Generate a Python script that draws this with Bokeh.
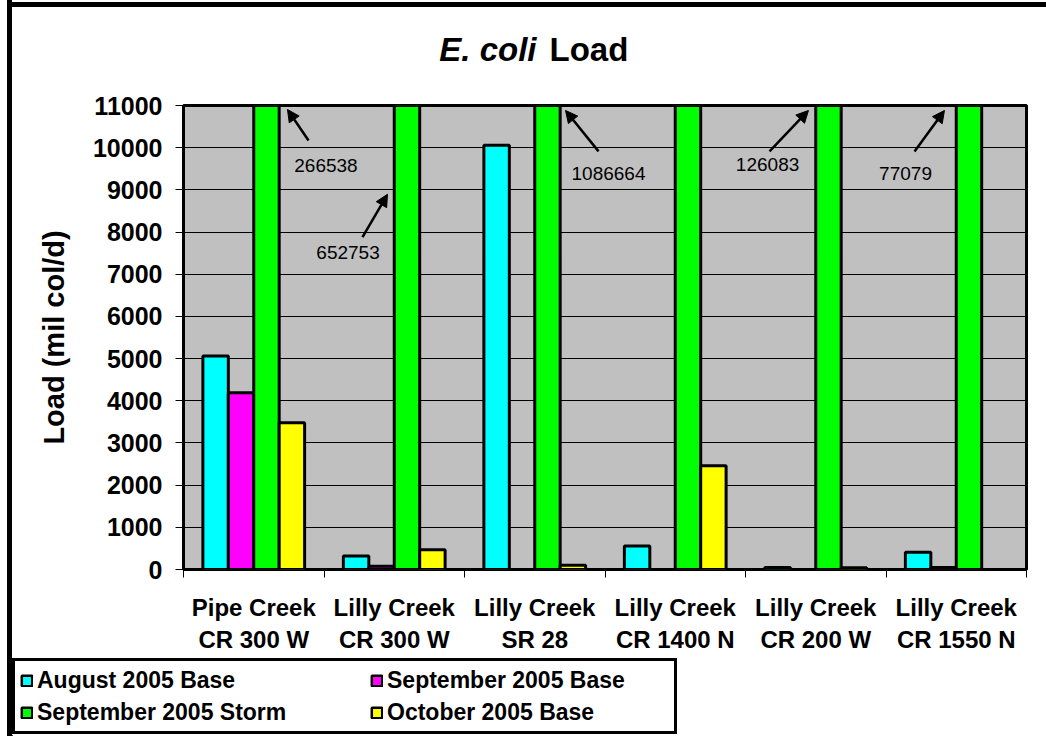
import numpy as np
from bokeh.plotting import figure
from bokeh.layouts import row, column
from bokeh.models import (Range1d, FixedTicker, Legend, LegendItem, Label, Arrow,
                          NormalHead, ColumnDataSource, Div)
from bokeh.embed import file_html
from bokeh.resources import INLINE

NAN = float("nan")

# ---------------- data ----------------
sites = ["Pipe Creek\nCR 300 W", "Lilly Creek\nCR 300 W", "Lilly Creek\nSR 28",
         "Lilly Creek\nCR 1400 N", "Lilly Creek\nCR 200 W", "Lilly Creek\nCR 1550 N"]
series_names = ["August 2005 Base", "September 2005 Base",
                "September 2005 Storm", "October 2005 Base"]
aug_base = [5060, 320, 10060, 560, 50, 410]
sep_base = [4190, 80, NAN, NAN, NAN, 50]
sep_storm = [266538, 652753, 1086664, 100000, 126083, 77079]  # CR 1400 N storm: off scale, unlabeled (estimate)
oct_base = [3480, 470, 100, 2460, 40, NAN]
y_ticks = list(range(0, 11001, 1000))

# off-scale storm value notes: (site index, text x, text y, arrow tail x, tail y, head x, head y)
storm_notes = [
    (0, 1.014, 9581, 0.890, 10172, 0.740, 10905),
    (1, 1.171, 7523, 1.274, 7877, 1.452, 8895),
    (2, 3.025, 9391, 2.954, 9912, 2.719, 10882),
    (4, 4.157, 9604, 4.171, 9912, 4.448, 10882),
    (5, 5.139, 9391, 5.203, 9912, 5.416, 10882),
]

colors = ["#00FFFF", "#FF00FF", "#00FF00", "#FFFF00"]
FONT = "Liberation Sans"

# ---------------- main chart ----------------
p = figure(width=1034, height=587, output_backend="svg", toolbar_location=None,
           x_range=Range1d(0, len(sites)), y_range=Range1d(0, 11000),
           min_border_left=171, min_border_right=20, min_border_top=37,
           min_border_bottom=85, frame_align=False)
p.background_fill_color = "#C0C0C0"
p.border_fill_color = "white"
p.outline_line_color = "black"
p.outline_line_width = 3

idx = np.arange(len(sites))
bar_w = 0.181
offsets = [-1.5, -0.5, 0.5, 1.5]
all_series = [aug_base, sep_base, sep_storm, oct_base]
for vals, off, col in zip(all_series, offsets, colors):
    src = ColumnDataSource(dict(x=idx + 0.5 + off * bar_w, top=vals))
    p.vbar(x="x", top="top", bottom=0, width=bar_w, source=src,
           fill_color=col, line_color="black", line_width=3)

p.xgrid.grid_line_color = None
p.ygrid.grid_line_color = "black"
p.ygrid.grid_line_width = 1

p.yaxis.ticker = FixedTicker(ticks=y_ticks)
p.yaxis.axis_line_color = None
p.yaxis.major_tick_out = 8
p.yaxis.major_tick_in = 0
p.yaxis.major_tick_line_color = "black"
p.yaxis.minor_tick_line_color = None
p.yaxis.major_label_standoff = 13
p.yaxis.major_label_text_font = FONT
p.yaxis.major_label_text_font_style = "bold"
p.yaxis.major_label_text_font_size = "25px"
p.yaxis.major_label_text_color = "black"
p.yaxis.axis_label = "Load (mil col/d)"
p.yaxis.axis_label_text_font = FONT
p.yaxis.axis_label_text_font_style = "bold"
p.yaxis.axis_label_text_font_size = "29px"
p.yaxis.axis_label_text_color = "black"
p.yaxis.axis_label_standoff = 20

p.xaxis.ticker = FixedTicker(ticks=list(idx + 0.5), minor_ticks=list(range(len(sites) + 1)))
p.xaxis.major_label_overrides = {float(i + 0.5): s for i, s in enumerate(sites)}
p.xaxis.axis_line_color = None
p.xaxis.major_tick_line_color = None
p.xaxis.major_tick_out = 0
p.xaxis.major_tick_in = 0
p.xaxis.minor_tick_line_color = "black"
p.xaxis.minor_tick_out = 8
p.xaxis.minor_tick_in = 0
p.xaxis.major_label_standoff = 16
p.xaxis.major_label_text_font = FONT
p.xaxis.major_label_text_font_style = "bold"
p.xaxis.major_label_text_font_size = "24px"
p.xaxis.major_label_text_color = "black"

for i, tx, ty, x0, y0, x1, y1 in storm_notes:
    p.add_layout(Arrow(end=NormalHead(size=12, fill_color="black", line_color="black", line_width=1),
                       x_start=x0, y_start=y0, x_end=x1, y_end=y1,
                       line_color="black", line_width=2.5))
    p.add_layout(Label(x=tx, y=ty, text=str(sep_storm[i]), text_align="center",
                       text_baseline="middle", text_font=FONT, text_font_size="19px",
                       text_color="black"))

# ---------------- title strip ----------------
tf = figure(width=1034, height=61, output_backend="svg", toolbar_location=None,
            x_range=Range1d(0, 1034), y_range=Range1d(0, 61),
            x_axis_type=None, y_axis_type=None, min_border=0, frame_align=False)
tf.outline_line_color = None
tf.grid.visible = False
tf.add_layout(Label(x=524, y=19, text="E. coli", text_align="right", text_baseline="middle",
                    text_font=FONT, text_font_style="bold italic", text_font_size="33px",
                    text_color="black"))
tf.add_layout(Label(x=537, y=19, text="Load", text_align="left", text_baseline="middle",
                    text_font=FONT, text_font_style="bold", text_font_size="33px",
                    text_color="black"))

# ---------------- legend strip ----------------
lf = figure(width=680, height=81, output_backend="svg", toolbar_location=None,
            x_range=Range1d(0, 1), y_range=Range1d(0, 1),
            x_axis_type=None, y_axis_type=None, min_border=0, frame_align=False)
lf.outline_line_color = None
lf.grid.visible = False
# legend swatches (placed off-range so only the legend shows them)
leg_r = [lf.vbar(x=[-10], top=[-10], bottom=-11, width=0.1, fill_color=c, line_color="black",
                 line_width=2.5) for c in colors]
common = dict(label_text_font=FONT, label_text_font_style="bold", label_text_font_size="23px",
              label_text_color="black", glyph_width=13, glyph_height=13, label_standoff=4,
              label_height=28, spacing=4, padding=5, margin=0, border_line_width=3)
leg1 = Legend(items=[LegendItem(label=series_names[0], renderers=[leg_r[0]]),
                     LegendItem(label=series_names[2], renderers=[leg_r[2]])],
              location=(0, 2), label_width=632,
              border_line_color="black", border_line_alpha=1.0, background_fill_color="white",
              background_fill_alpha=1.0, **common)
leg2 = Legend(items=[LegendItem(label=series_names[1], renderers=[leg_r[1]]),
                     LegendItem(label=series_names[3], renderers=[leg_r[3]])],
              location=(353, 5), label_width=200,
              border_line_color="black", border_line_alpha=0, background_fill_alpha=0, **common)
lf.add_layout(leg1)
lf.add_layout(leg2)

# ---------------- outer border pieces ----------------
left_bar = Div(text="", width=12, height=736, margin=0,
               styles={"background": "linear-gradient(to right, white 7px, black 7px)"})
top_bar = Div(text="", width=1034, height=7, margin=0,
              styles={"background": "linear-gradient(to bottom, white 2px, black 2px)"})

layout = row(left_bar, column(top_bar, tf, p, lf, spacing=0), spacing=0)
open("out.html", "w").write(file_html(layout, INLINE))
